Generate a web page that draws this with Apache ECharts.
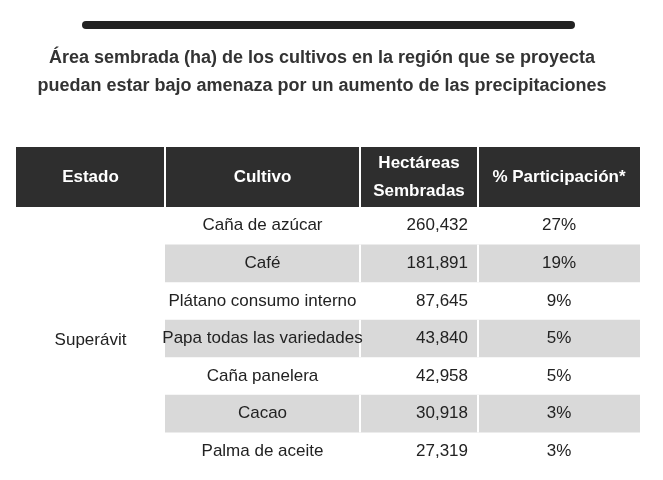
<!DOCTYPE html>
<html><head><meta charset="utf-8">
<script src="https://cdn.jsdelivr.net/npm/echarts@6/dist/echarts.min.js"></script>
<style>html,body{margin:0;background:#fff}#main{width:663px;height:480px}</style>
</head><body><div id="main"></div>
<script>
// datos de la tabla
var cultivos = ['Caña de azúcar', 'Café', 'Plátano consumo interno', 'Papa todas las variedades', 'Caña panelera', 'Cacao', 'Palma de aceite'];
var hectareas = [260432, 181891, 87645, 43840, 42958, 30918, 27319];
var participacion = ['27%', '19%', '9%', '5%', '5%', '3%', '3%'];
var estado = 'Superávit';
var encabezados = ['Estado', 'Cultivo', 'Hectáreas\nSembradas', '% Participación*'];

var font = '"Liberation Sans", Arial, sans-serif';
// bordes de columnas (en unidades del eje x)
var cols = [0, 149, 344, 462, 624];

var chart = echarts.init(document.getElementById('main'));

function fmt(n) { return n.toString().replace(/\B(?=(\d{3})+(?!\d))/g, ','); }

var graphics = [
  { type: 'rect', shape: { x: 82, y: 21, width: 493, height: 8, r: 4 }, style: { fill: '#222' } },
  { type: 'text', x: 322, y: 44, style: { text: 'Área sembrada (ha) de los cultivos en la región que se proyecta\npuedan estar bajo amenaza por un aumento de las precipitaciones',
    font: 'bold 18px ' + font, fill: '#333', align: 'center', lineHeight: 28 } },
  { type: 'rect', shape: { x: 16, y: 147, width: 624, height: 60 }, style: { fill: '#2e2e2e' } }
];
encabezados.forEach(function (h, i) {
  var cx = 16 + (cols[i] + cols[i + 1]) / 2;
  graphics.push({ type: 'text', x: cx, y: 177, style: { text: h, font: 'bold 17px ' + font, fill: '#fff', align: 'center', verticalAlign: 'middle', lineHeight: 28 } });
});
for (var i = 1; i < 4; i++) {
  graphics.push({ type: 'rect', shape: { x: 16 + cols[i] - 1, y: 147, width: 2, height: 60 }, style: { fill: '#fff' } });
}
graphics.push({ type: 'text', x: 16 + cols[1] / 2, y: 340, style: { text: estado, font: '17px ' + font, fill: '#222', align: 'center', verticalAlign: 'middle' } });

var option = {
  animation: false,
  graphic: graphics,
  grid: { left: 16, right: 23, top: 207, height: 263 },
  xAxis: { type: 'value', min: 0, max: 624, show: false },
  yAxis: { type: 'category', data: cultivos, inverse: true, show: false },
  series: [{
    type: 'custom',
    data: cultivos.map(function (c, i) { return [i, hectareas[i]]; }),
    encode: { x: 1, y: 0 },
    renderItem: function (params, api) {
      var idx = api.value(0);
      var c = api.coord([0, idx]);
      var h = api.size([0, 1])[1];
      var x0 = api.coord([cols[1], idx])[0];
      var x1 = api.coord([cols[4], idx])[0];
      var children = [];
      if (idx % 2 === 1) {
        children.push({ type: 'rect', shape: { x: x0, y: c[1] - h / 2, width: x1 - x0, height: h }, style: { fill: '#d9d9d9' } });
        [2, 3].forEach(function (k) {
          var xx = api.coord([cols[k], idx])[0];
          children.push({ type: 'rect', shape: { x: xx - 1, y: c[1] - h / 2, width: 2, height: h }, style: { fill: '#fff' } });
        });
      }
      var st = { font: '17px ' + font, fill: '#222', verticalAlign: 'middle' };
      children.push({ type: 'text', x: api.coord([(cols[1] + cols[2]) / 2, idx])[0], y: c[1],
        style: Object.assign({ text: cultivos[idx], align: 'center' }, st) });
      children.push({ type: 'text', x: api.coord([cols[3] - 10, idx])[0], y: c[1],
        style: Object.assign({ text: fmt(api.value(1)), align: 'right' }, st) });
      children.push({ type: 'text', x: api.coord([(cols[3] + cols[4]) / 2, idx])[0], y: c[1],
        style: Object.assign({ text: participacion[idx], align: 'center' }, st) });
      return { type: 'group', children: children };
    }
  }]
};
chart.setOption(option);
</script>
</body></html>
